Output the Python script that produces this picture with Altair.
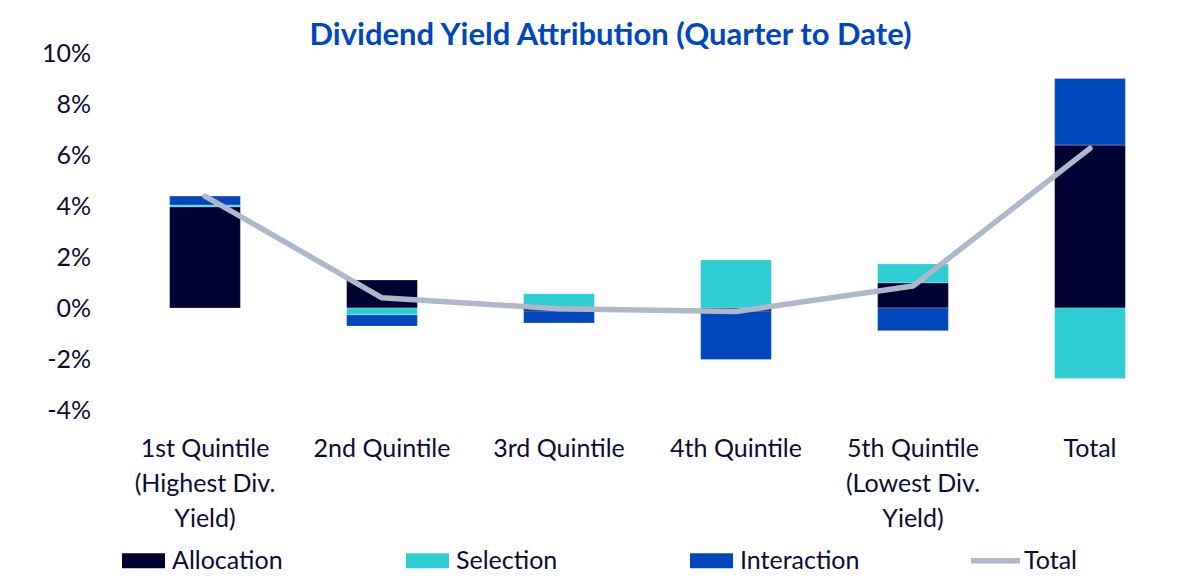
import altair as alt
import pandas as pd

# ---- data (percent) ----
categories = [
    "1st Quintile|(Highest Div.|Yield)",
    "2nd Quintile",
    "3rd Quintile",
    "4th Quintile",
    "5th Quintile|(Lowest Div.|Yield)",
    "Total",
]
series = ["Allocation", "Selection", "Interaction"]
allocation = [3.97, 1.10, -0.12, -0.12, 0.99, 6.39]
selection = [0.07, -0.27, 0.56, 1.88, 0.74, -2.76]
interaction = [0.35, -0.44, -0.47, -1.90, -0.89, 2.61]
total = [4.39, 0.40, -0.03, -0.14, 0.86, 6.26]
y_ticks = [-4, -2, 0, 2, 4, 6, 8, 10]

legend_names = series + ["Total"]
bar_colors = ["#000033", "#2ECCD3", "#0047BB"]
line_color = "#ADB9CA"
colors = bar_colors + [line_color]
rect_path = "M-1,-0.349L1,-0.349L1,0.349L-1,0.349Z"
line_path = "M-1.14,-0.128L1.14,-0.128L1.14,0.128L-1.14,0.128Z"
shapes = [rect_path, rect_path, rect_path, line_path]

rows = []
for i, c in enumerate(categories):
    for k, (s, vals) in enumerate(zip(series, [allocation, selection, interaction])):
        rows.append({"category": c, "series": s, "value": vals[i], "order": k})
bars_df = pd.DataFrame(rows)
line_df = pd.DataFrame({"category": categories, "series": ["Total"] * len(categories), "value": total})
legend_df = pd.concat([bars_df[["category", "series", "value"]], line_df], ignore_index=True)

FONT = "Lato"
TXT = "#0c0c30"

x_enc = alt.X(
    "category:N",
    sort=categories,
    scale=alt.Scale(paddingInner=0.6, paddingOuter=0.3),
    axis=alt.Axis(
        title=None,
        labelAngle=0,
        labelExpr="split(datum.label, '|')",
        labelFontSize=25,
        labelFont=FONT,
        labelColor=TXT,
        labelLineHeight=35,
        labelBaseline="alphabetic",
        labelPadding=46,
        labelLimit=400,
        domain=False,
        ticks=False,
        tickSize=0,
        grid=False,
    ),
)

y_scale = alt.Scale(domain=[-4, 10], nice=False, zero=False)
y_axis = alt.Axis(
    title=None,
    values=y_ticks,
    labelExpr="datum.value + '%'",
    labelFontSize=25,
    labelFont=FONT,
    labelColor=TXT,
    labelPadding=26,
    domain=False,
    ticks=False,
    tickSize=0,
    grid=False,
)

legend = alt.Legend(
    title=None,
    orient="none",
    legendX=5.5,
    legendY=486,
    direction="horizontal",
    columns=4,
    gridAlign="all",
    columnPadding=110,
    symbolSize=1849,
    symbolStrokeWidth=0,
    symbolOpacity=1,
    labelFontSize=25,
    labelFont=FONT,
    labelColor=TXT,
    labelOffset=7,
    labelLimit=400,
    padding=0,
)

bars = alt.Chart(bars_df).mark_bar(stroke="#ffffff", strokeWidth=0.7, strokeOpacity=0.4).encode(
    x=x_enc,
    y=alt.Y("value:Q", stack="zero", scale=y_scale, axis=y_axis),
    fill=alt.Fill("series:N", scale=alt.Scale(domain=series, range=bar_colors), legend=None),
    order=alt.Order("order:Q"),
)

line = alt.Chart(line_df).mark_line(strokeWidth=5.5, strokeCap="round", strokeJoin="round").encode(
    x=alt.X("category:N", sort=categories),
    y=alt.Y("value:Q", stack=None),
    stroke=alt.Stroke("series:N", scale=alt.Scale(domain=["Total"], range=[line_color]), legend=None),
)

legend_layer = alt.Chart(legend_df).mark_point(filled=True, opacity=0).encode(
    x=alt.X("category:N", sort=categories),
    y=alt.Y("value:Q", stack=None),
    color=alt.Color("series:N", scale=alt.Scale(domain=legend_names, range=colors), legend=legend),
    shape=alt.Shape("series:N", scale=alt.Scale(domain=legend_names, range=shapes), legend=legend),
)

chart = (
    alt.layer(bars, line, legend_layer)
    .properties(
        width=1062,
        height=357,
        title=alt.TitleParams(
            "Dividend Yield Attribution (Quarter to Date)",
            font=FONT,
            fontSize=31,
            fontWeight="bold",
            color="#0047BB",
            anchor="middle",
            frame="group",
            dx=-37,
            dy=13,
            offset=2,
        ),
        autosize=alt.AutoSizeParams(type="none"),
        padding={"left": 108.5, "top": 45, "right": 9.5, "bottom": 164},
    )
    .configure(font=FONT)
    .configure_view(strokeWidth=0, stroke="transparent")
)

chart.save("out.html", embed_options={"renderer": "svg", "actions": False})
